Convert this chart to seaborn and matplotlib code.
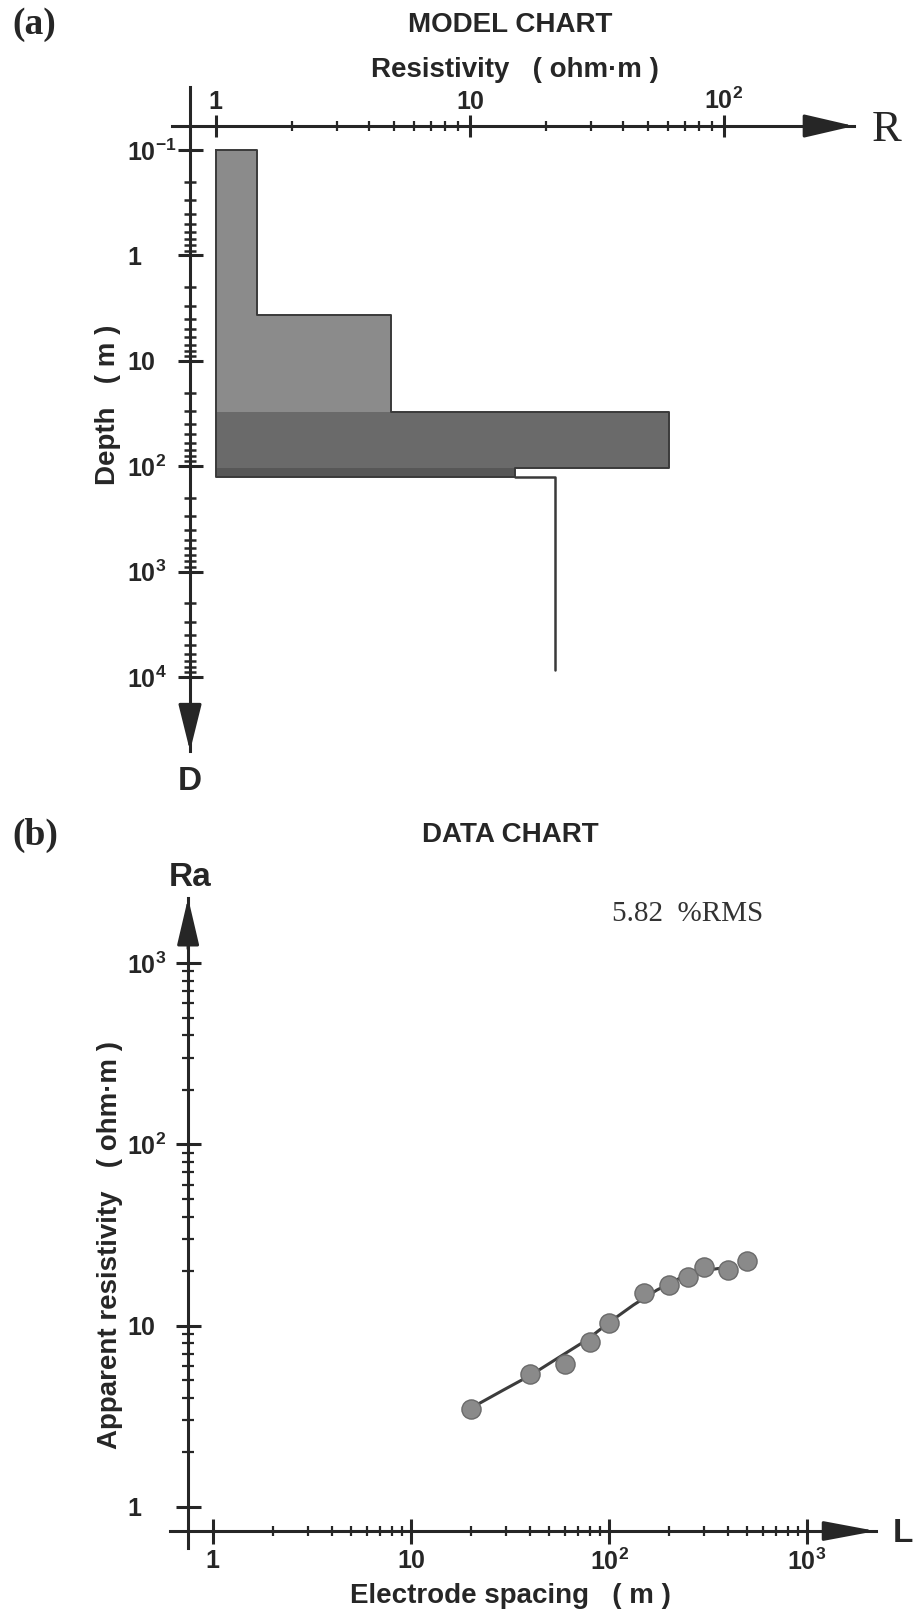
import matplotlib
matplotlib.use("Agg")
import matplotlib.pyplot as plt
import seaborn as sns
import numpy as np
import pandas as pd
from matplotlib.ticker import FixedLocator, NullFormatter

# ---------------- data ----------------
# Model chart (layered earth model)
layer_top = [0.1, 3.65, 30.6, 104.0]
layer_bottom = [3.65, 30.6, 104.0, 126.0]
layer_rho = [1.45, 4.9, 60.5, 15.0]
layer_colors = ["#8b8b8b", "#8b8b8b", "#6a6a6a", "#575757"]
model_base_rho = 1.0
halfspace_top = 126.0
halfspace_end = 8500.0
halfspace_rho = 21.7

res_major = [1, 10, 100]
res_major_labels = ["$1$", "$10$", "$10^{2}$"]
res_minor_mult = [2, 3, 4, 5, 6, 7, 8, 9]
res_minor_decades = [1, 10]
depth_major = [0.1, 1, 10, 100, 1000, 10000]
depth_major_labels = ["$10^{-1}$", "$1$", "$10$", "$10^{2}$", "$10^{3}$", "$10^{4}$"]
depth_minor_decades = [0.1, 1, 10, 100, 1000]

# Data chart (sounding curve)
spacing = [20, 40, 60, 80, 100, 150, 200, 250, 300, 400, 500]
app_res = [3.47, 5.41, 6.15, 8.10, 10.4, 15.1, 16.7, 18.6, 21.0, 20.3, 22.7]
curve_spacing = [20.6, 29.3, 40.4, 56.6, 77.1, 101, 132.7, 174, 228, 299, 393]
curve_res = [3.57, 4.42, 5.35, 6.75, 8.34, 10.5, 13.0, 15.7, 18.3, 20.1, 21.0]
spacing_major = [1, 10, 100, 1000]
spacing_labels = ["$1$", "$10$", "$10^{2}$", "$10^{3}$"]
spacing_minor_decades = [1, 10, 100]
ra_major = [1, 10, 100, 1000]
ra_labels = ["$1$", "$10$", "$10^{2}$", "$10^{3}$"]
ra_minor_decades = [1, 10, 100]
rms_text = "5.82  %RMS"

# ---------------- style ----------------
sns.set_style("white")
plt.rcParams["font.family"] = ["Liberation Sans", "DejaVu Sans"]
plt.rcParams["mathtext.fontset"] = "custom"
plt.rcParams["mathtext.rm"] = "Liberation Sans:bold"
plt.rcParams["mathtext.bf"] = "Liberation Sans:bold"
plt.rcParams["mathtext.default"] = "rm"

INK = "#262626"
W, H = 917, 1617
fig = plt.figure(figsize=(W / 100, H / 100), dpi=100)


def fx(px):
    return px / W


def fy(py):
    return 1 - py / H


def minors(decades):
    return [m * d for d in decades for m in res_minor_mult]


def arrowhead(ax, xy, xytext, hl, hw):
    ax.annotate("", xy=xy, xytext=xytext, xycoords="data", textcoords="data",
                arrowprops=dict(arrowstyle=f"-|>,head_length={hl},head_width={hw}",
                                mutation_scale=20, fc=INK, ec=INK, lw=2.2,
                                shrinkA=0, shrinkB=0),
                annotation_clip=False)


# ================= (a) MODEL CHART =================
ax1 = fig.add_axes([fx(172), fy(751), fx(854 - 172), (751 - 87) / H])
ax1.set_xscale("log")
ax1.set_yscale("log")
ax1.set_xlim(0.671, 325)
ax1.set_ylim(50400, 0.0252)
ax1.patch.set_alpha(0)

r_axis_depth = 0.0591
d_axis_rho = 0.79

for top, bot, rho, col in zip(layer_top, layer_bottom, layer_rho, layer_colors):
    ax1.fill_betweenx([top, bot], model_base_rho, rho, color=col, lw=0)

# outline of the model
ox = [model_base_rho]
oy = [layer_top[0]]
for top, bot, rho in zip(layer_top, layer_bottom, layer_rho):
    ox += [rho, rho]
    oy += [top, bot]
ox += [model_base_rho, model_base_rho]
oy += [layer_bottom[-1], layer_top[0]]
ax1.plot(ox, oy, color="#3a3a3a", lw=1.4)
ax1.plot([layer_rho[-1], halfspace_rho, halfspace_rho],
         [halfspace_top, halfspace_top, halfspace_end], color="#3a3a3a", lw=1.8)

for s in ["right", "bottom"]:
    ax1.spines[s].set_visible(False)
ax1.spines["top"].set_position(("data", r_axis_depth))
ax1.spines["left"].set_position(("data", d_axis_rho))
for s in ["top", "left"]:
    ax1.spines[s].set_color(INK)
    ax1.spines[s].set_linewidth(2.2)

ax1.xaxis.set_ticks_position("top")
ax1.xaxis.set_major_locator(FixedLocator(res_major))
ax1.xaxis.set_minor_locator(FixedLocator(minors(res_minor_decades)))
ax1.xaxis.set_minor_formatter(NullFormatter())
ax1.set_xticklabels(res_major_labels)
ax1.yaxis.set_major_locator(FixedLocator(depth_major))
ax1.yaxis.set_minor_locator(FixedLocator(minors(depth_minor_decades)))
ax1.yaxis.set_minor_formatter(NullFormatter())
ax1.set_yticklabels(depth_major_labels)

ax1.tick_params(axis="x", which="major", direction="inout", length=16, width=2.2,
                color=INK, top=True, bottom=False, labeltop=True, labelbottom=False,
                pad=1, labelsize=18, labelcolor=INK)
ax1.tick_params(axis="x", which="minor", direction="inout", length=7, width=1.6,
                color=INK, top=True, bottom=False)
ax1.tick_params(axis="y", which="major", direction="inout", length=18, width=2.2,
                color=INK, left=True, right=False, pad=36.4, labelsize=18, labelcolor=INK)
ax1.tick_params(axis="y", which="minor", direction="inout", length=9, width=1.8,
                color=INK, left=True, right=False)
for lbl in ax1.get_yticklabels():
    lbl.set_horizontalalignment("left")

arrowhead(ax1, (325, r_axis_depth), (250, r_axis_depth), 1.55, 0.36)
arrowhead(ax1, (d_axis_rho, 50400), (d_axis_rho, 20000), 1.45, 0.36)

fig.text(fx(12), fy(25), "(a)", family="Liberation Serif", weight="bold",
         fontsize=27, color=INK, ha="left", va="center")
fig.text(fx(510), fy(25), "MODEL CHART", weight="bold", fontsize=20,
         color=INK, ha="center", va="center")
fig.text(fx(515), fy(70), "Resistivity   ( ohm\u00b7m )", weight="bold", fontsize=20,
         color=INK, ha="center", va="center")
fig.text(fx(872), fy(130), "R", family="Liberation Serif", fontsize=32,
         color=INK, ha="left", va="center")
fig.text(fx(190), fy(781), "D", weight="bold", fontsize=24, color=INK,
         ha="center", va="center")
fig.text(fx(108), fy(405), "Depth   ( m )", weight="bold", fontsize=20, color=INK,
         ha="center", va="center", rotation=90)

# ================= (b) DATA CHART =================
ax2 = fig.add_axes([fx(170), fy(1548), fx(876 - 170), (1548 - 898) / H])
ax2.set_xscale("log")
ax2.set_yscale("log")
ax2.set_xlim(0.606, 2230)
ax2.set_ylim(0.594, 2286)
ax2.patch.set_alpha(0)

x_axis_ra = 0.737
y_axis_spacing = 0.748

curve_df = pd.DataFrame({"spacing": curve_spacing, "res": curve_res})
data_df = pd.DataFrame({"spacing": spacing, "res": app_res})
sns.lineplot(data=curve_df, x="spacing", y="res", ax=ax2, color="#3c3c3c", lw=2.2,
             sort=False, estimator=None)
sns.scatterplot(data=data_df, x="spacing", y="res", ax=ax2, s=190, color="#8a8a8a",
                edgecolor="#6a6a6a", linewidth=1.0, zorder=3)
ax2.set_xlabel("")
ax2.set_ylabel("")

for s in ["right", "top"]:
    ax2.spines[s].set_visible(False)
ax2.spines["bottom"].set_position(("data", x_axis_ra))
ax2.spines["left"].set_position(("data", y_axis_spacing))
for s in ["bottom", "left"]:
    ax2.spines[s].set_color(INK)
    ax2.spines[s].set_linewidth(2.2)

ax2.xaxis.set_major_locator(FixedLocator(spacing_major))
ax2.xaxis.set_minor_locator(FixedLocator(minors(spacing_minor_decades)))
ax2.xaxis.set_minor_formatter(NullFormatter())
ax2.set_xticklabels(spacing_labels)
ax2.yaxis.set_major_locator(FixedLocator(ra_major))
ax2.yaxis.set_minor_locator(FixedLocator(minors(ra_minor_decades)))
ax2.yaxis.set_minor_formatter(NullFormatter())
ax2.set_yticklabels(ra_labels)

ax2.tick_params(axis="x", which="major", direction="inout", length=18, width=2.2,
                color=INK, bottom=True, top=False, pad=4, labelsize=18, labelcolor=INK)
ax2.tick_params(axis="x", which="minor", direction="inout", length=7, width=1.6,
                color=INK, bottom=True, top=False)
ax2.tick_params(axis="y", which="major", direction="inout", length=18, width=2.2,
                color=INK, left=True, right=False, pad=35, labelsize=18, labelcolor=INK)
ax2.tick_params(axis="y", which="minor", direction="inout", length=8, width=1.6,
                color=INK, left=True, right=False)
for lbl in ax2.get_yticklabels():
    lbl.set_horizontalalignment("left")

arrowhead(ax2, (2230, x_axis_ra), (1700, x_axis_ra), 1.6, 0.3)
arrowhead(ax2, (y_axis_spacing, 2286), (y_axis_spacing, 1200), 1.45, 0.34)

fig.text(fx(12), fy(835), "(b)", family="Liberation Serif", weight="bold",
         fontsize=27, color=INK, ha="left", va="center")
fig.text(fx(510), fy(835), "DATA CHART", weight="bold", fontsize=20,
         color=INK, ha="center", va="center")
fig.text(fx(190), fy(877), "Ra", weight="bold", fontsize=24, color=INK,
         ha="center", va="center")
fig.text(fx(893), fy(1533), "L", weight="bold", fontsize=24, color=INK,
         ha="left", va="center")
fig.text(fx(688), fy(914), rms_text, family="Liberation Serif", fontsize=21,
         color="#333333", ha="center", va="center")
fig.text(fx(110), fy(1245), "Apparent resistivity   ( ohm\u00b7m )", weight="bold",
         fontsize=20, color=INK, ha="center", va="center", rotation=90)
fig.text(fx(510), fy(1596), "Electrode spacing   ( m )", weight="bold", fontsize=20,
         color=INK, ha="center", va="center")

fig.savefig("out.png", dpi=100)
